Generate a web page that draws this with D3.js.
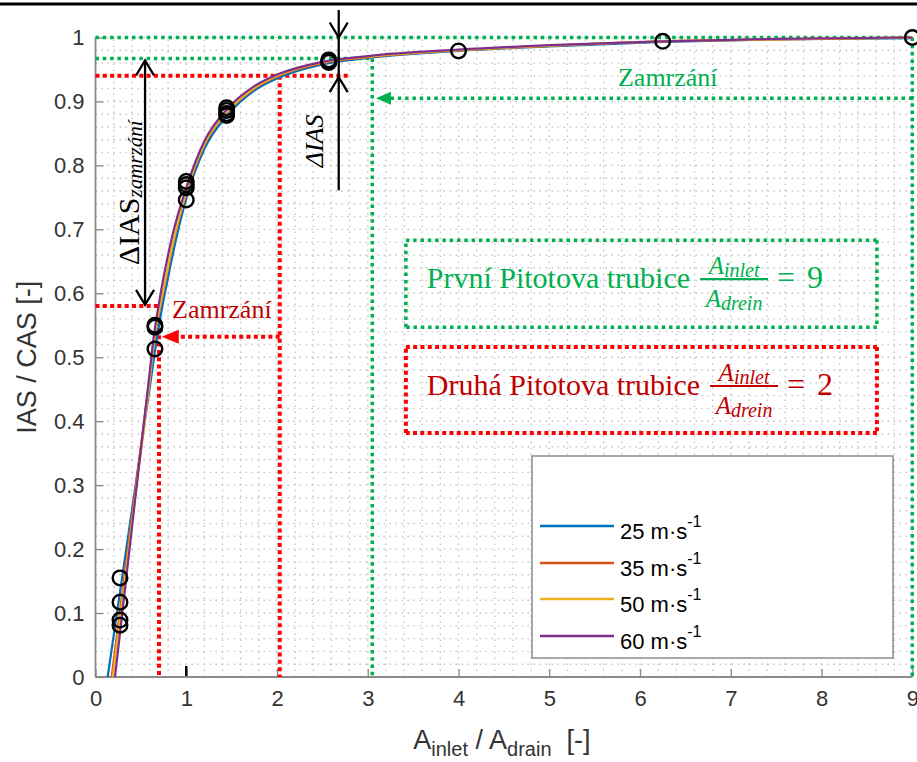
<!DOCTYPE html>
<html><head><meta charset="utf-8">
<script src="https://cdn.jsdelivr.net/npm/d3@7"></script>
<style>body{margin:0;background:#fff}svg{display:block}</style>
</head><body><svg id="c" width="917" height="762"></svg>
<script>
// ---------- data ----------
const xTicks = [0,1,2,3,4,5,6,7,8,9];
const yTicks = [0,0.1,0.2,0.3,0.4,0.5,0.6,0.7,0.8,0.9,1];
const seriesNames = ["25 m\u00B7s","35 m\u00B7s","50 m\u00B7s","60 m\u00B7s"];
const seriesColors = ["#0072BD","#D95319","#EDB120","#7E2F8E"];
const s25X = [0.134,0.30,0.45,0.60,0.674,0.75,0.80,0.85,1.0,1.2,1.45,1.75,2.0,2.5,3.0,4.0,5.0,6.25,7.5,9.0];
const s25Y = [0,0.162,0.308,0.455,0.527,0.59,0.625,0.66,0.748,0.826,0.878,0.917,0.936,0.958,0.968,0.979,0.986,0.993,0.997,0.999];
const s35X = [0.178,0.30,0.45,0.60,0.648,0.70,0.75,0.85,1.0,1.2,1.45,1.75,2.0,2.5,3.0,4.0,5.0,6.25,7.5,9.0];
const s35Y = [0,0.137,0.305,0.473,0.527,0.57,0.604,0.674,0.757,0.832,0.883,0.920,0.939,0.960,0.969,0.980,0.987,0.994,0.997,1.0];
const s50X = [0.19,0.30,0.45,0.60,0.645,0.70,0.75,0.85,1.0,1.2,1.45,1.75,2.0,2.5,3.0,4.0,5.0,6.25,7.5,9.0];
const s50Y = [0,0.125,0.296,0.467,0.527,0.572,0.607,0.677,0.759,0.834,0.884,0.921,0.940,0.961,0.970,0.980,0.987,0.994,0.997,1.0];
const s60X = [0.215,0.30,0.45,0.60,0.637,0.70,0.75,0.85,1.0,1.2,1.45,1.75,2.0,2.5,3.0,4.0,5.0,6.25,7.5,9.0];
const s60Y = [0,0.106,0.294,0.48,0.527,0.585,0.625,0.692,0.765,0.838,0.888,0.924,0.942,0.962,0.971,0.981,0.988,0.994,0.998,1.0];
const markerX = [0.27,0.27,0.27,0.27,0.655,0.655,0.655,1.0,1.0,1.0,1.0,1.445,1.445,1.445,1.445,2.57,2.57,2.57,4.0,6.25,9.0];
const markerY = [0.155,0.117,0.089,0.081,0.550,0.547,0.513,0.775,0.770,0.765,0.746,0.890,0.886,0.881,0.878,0.965,0.963,0.961,0.979,0.994,1.0];

// ---------- setup ----------
const W = 917, H = 762;
const svg = d3.select("#c");
const x = d3.scaleLinear().domain([0,9]).range([95.5, 912.3]);
const y = d3.scaleLinear().domain([0,1]).range([677, 37.5]);
const sans = "Liberation Sans, Arial, sans-serif";
const serif = "Liberation Serif, Times New Roman, serif";
const GREEN = "#00b050", RED = "#ff0000", DRED = "#c00000";
const AXC = "#333333";

// top black rule
svg.append("line").attr("x1",0).attr("x2",W).attr("y1",4).attr("y2",4).attr("stroke","#000").attr("stroke-width",3);

// grid (dotted)
const grid = svg.append("g").attr("stroke","#c4c4c4").attr("stroke-width",1.4).attr("stroke-dasharray","1.5,4.5");
d3.range(1,46).map(i=>i*0.2).forEach(v=>{
  grid.append("line").attr("x1",x(v)).attr("x2",x(v)).attr("y1",y(0)).attr("y2",y(1));
});
d3.range(1,51).map(i=>i*0.02).forEach(v=>{
  grid.append("line").attr("x1",x(0)).attr("x2",x(9)).attr("y1",y(v)).attr("y2",y(v));
});

// axes
const xAxis = svg.append("g").attr("transform",`translate(0,${y(0)})`)
  .call(d3.axisBottom(x).tickValues(xTicks).tickSize(-8).tickSizeOuter(0).tickPadding(13).tickFormat(d3.format("d")));
const yAxis = svg.append("g").attr("transform",`translate(${x(0)},0)`)
  .call(d3.axisLeft(y).tickValues(yTicks).tickSize(-8).tickSizeOuter(0).tickPadding(11)
    .tickFormat(d => d===0?"0":(d===1?"1":d3.format(".1f")(d))));
[xAxis,yAxis].forEach(a=>{
  a.select(".domain").remove();
  a.selectAll(".tick line").attr("stroke","#8a8a8a").attr("stroke-width",1.3);
  a.selectAll(".tick text").attr("font-family",sans).attr("font-size",22).attr("fill",AXC);
});
svg.append("line").attr("x1",x(0)).attr("x2",x(9)).attr("y1",y(0)).attr("y2",y(0)).attr("stroke","#8a8a8a").attr("stroke-width",1.8);
svg.append("line").attr("x1",x(0)).attr("x2",x(0)).attr("y1",y(0)).attr("y2",y(1)).attr("stroke","#8a8a8a").attr("stroke-width",1.8);
// dark tick at x = 1
svg.append("line").attr("x1",x(1)).attr("x2",x(1)).attr("y1",y(0)-1).attr("y2",y(0)-11).attr("stroke","#000").attr("stroke-width",2.5);

// axis titles
svg.append("text").attr("transform",`translate(36,${(y(0)+y(1))/2}) rotate(-90)`)
  .attr("text-anchor","middle").attr("font-family",sans).attr("font-size",27).attr("fill",AXC)
  .text("IAS / CAS [-]");
const xt = svg.append("text").attr("x",(x(0)+x(9))/2-2).attr("y",749).attr("text-anchor","middle")
  .attr("font-family",sans).attr("font-size",27).attr("fill",AXC);
xt.append("tspan").text("A");
xt.append("tspan").attr("font-size",20).attr("dy",7).text("inlet");
xt.append("tspan").attr("dy",-7).text(" / A");
xt.append("tspan").attr("font-size",20).attr("dy",7).text("drain");
xt.append("tspan").attr("dy",-7).text("\u00A0\u00A0[-]");

// dotted guide lines
function dotted(x1,y1,x2,y2,color){
  const isRed = color===RED;
  svg.append("line").attr("x1",x(x1)).attr("y1",y(y1)).attr("x2",x(x2)).attr("y2",y(y2))
    .attr("stroke",color).attr("stroke-width",isRed?4:3.5)
    .attr("stroke-dasharray",isRed?"4,3.3":"3.5,3.8");
}
function headLeft(xt_,yv,color,len,hh){
  const px=x(xt_), py=y(yv);
  svg.append("path").attr("d",`M${px},${py}L${px+len},${py-hh}L${px+len},${py+hh}Z`).attr("fill",color);
}
// green
dotted(0,1,9,1,GREEN);
dotted(0,0.967,3.05,0.967,GREEN);
dotted(3.05,0.967,3.05,0,GREEN);
dotted(9,1,9,0,GREEN);
dotted(9,0.905,3.2,0.905,GREEN);
headLeft(3.09,0.905,GREEN,15,6.5);
// red
dotted(0,0.94,2.78,0.94,RED);
dotted(2.03,0.94,2.03,0,RED);
dotted(0,0.58,0.70,0.58,RED);
dotted(0.70,0.58,0.70,0,RED);
dotted(2.03,0.532,0.9,0.532,RED);
headLeft(0.73,0.532,RED,17,7);

// boxes
function dottedRect(x1,y1,x2,y2,color){
  dotted(x1,y1,x2,y1,color); dotted(x2,y1,x2,y2,color);
  dotted(x2,y2,x1,y2,color); dotted(x1,y2,x1,y1,color);
}
dottedRect(3.42,0.683,8.61,0.547,GREEN);
dottedRect(3.42,0.516,8.61,0.3815,RED);

// curves
const allSeries = [[s25X,s25Y],[s35X,s35Y],[s50X,s50Y],[s60X,s60Y]];
svg.append("clipPath").attr("id","clip").append("rect")
  .attr("x",x(0)).attr("y",y(1)-2).attr("width",x(9)-x(0)+2).attr("height",y(0)-y(1)+2);
const line = d3.line().x(d=>x(d[0])).y(d=>y(d[1])).curve(d3.curveMonotoneX);
const cg = svg.append("g").attr("clip-path","url(#clip)");
allSeries.forEach((s,i)=>{
  const pts = s[0].map((v,j)=>[v,s[1][j]]);
  cg.append("path").attr("d",line(pts)).attr("fill","none").attr("stroke",seriesColors[i]).attr("stroke-width",2.2);
});
// markers
svg.append("g").selectAll("circle").data(markerX.map((v,i)=>[v,markerY[i]])).join("circle")
  .attr("cx",d=>x(d[0])).attr("cy",d=>y(d[1])).attr("r",7.3)
  .attr("fill","none").attr("stroke","#000").attr("stroke-width",2.4);

// black arrows
function openHead(xv,yv,dir){ // dir=-1 tip pointing up, +1 pointing down
  const px=x(xv), py=y(yv);
  svg.append("path").attr("d",`M${px-9},${py-dir*15}L${px},${py}L${px+9},${py-dir*15}`)
    .attr("fill","none").attr("stroke","#000").attr("stroke-width",2.3);
}
svg.append("line").attr("x1",x(0.546)).attr("x2",x(0.546)).attr("y1",y(0.964)).attr("y2",y(0.582)).attr("stroke","#000").attr("stroke-width",2.3);
openHead(0.546,0.964,-1); openHead(0.546,0.582,1);
svg.append("line").attr("x1",x(2.68)).attr("x2",x(2.68)).attr("y1",y(1.043)).attr("y2",y(0.761)).attr("stroke","#000").attr("stroke-width",2.3);
openHead(2.68,1.0,1); openHead(2.68,0.938,-1);

// annotation texts
svg.append("text").attr("x",x(0.843)).attr("y",y(0.561)).attr("font-family",serif).attr("font-size",26).attr("fill",DRED).text("Zamrz\u00E1n\u00ED");
svg.append("text").attr("x",x(5.757)).attr("y",y(0.9245)).attr("font-family",serif).attr("font-size",26).attr("fill",GREEN).text("Zamrz\u00E1n\u00ED");
const d1 = svg.append("text").attr("transform",`translate(${x(0.479)},${y(0.644)}) rotate(-90)`)
  .attr("font-family",serif).attr("font-size",30).attr("fill","#000");
d1.append("tspan").text("\u0394IAS");
d1.append("tspan").attr("font-size",21).attr("font-style","italic").attr("dy",3).text("zamrz\u00E1n\u00ED");
svg.append("text").attr("transform",`translate(${x(2.507)},${y(0.797)}) rotate(-90)`)
  .attr("font-family",serif).attr("font-size",26).attr("font-style","italic").attr("fill","#000").text("\u0394IAS");

function eqLabel(xv,yv,main,rhs,color){
  const x0=x(xv), y0=y(yv);
  const t = svg.append("text").attr("x",x0).attr("y",y0).attr("font-family",serif).attr("font-size",30).attr("fill",color).text(main);
  const w = t.node().getComputedTextLength();
  const fx = x0+w+10, fw = 68;
  const num = svg.append("text").attr("x",fx+fw/2).attr("y",y0-14).attr("text-anchor","middle")
    .attr("font-family",serif).attr("font-style","italic").attr("fill",color).attr("font-size",25);
  num.append("tspan").text("A"); num.append("tspan").attr("font-size",20).attr("dy",3).text("inlet");
  svg.append("line").attr("x1",fx).attr("x2",fx+fw).attr("y1",y0-9).attr("y2",y0-9).attr("stroke",color).attr("stroke-width",2.2);
  const den = svg.append("text").attr("x",fx+fw/2).attr("y",y0+19).attr("text-anchor","middle")
    .attr("font-family",serif).attr("font-style","italic").attr("fill",color).attr("font-size",25);
  den.append("tspan").text("A"); den.append("tspan").attr("font-size",20).attr("dy",3).text("drein");
  const r = svg.append("text").attr("x",fx+fw+9).attr("y",y0).attr("font-family",serif).attr("font-size",32).attr("fill",color);
  r.append("tspan").text("=");
  r.append("tspan").attr("dx",12).text(rhs);
}
eqLabel(3.65,0.608,"Prvn\u00ED Pitotova trubice","9",GREEN);
eqLabel(3.65,0.441,"Druh\u00E1 Pitotova trubice","2",DRED);

// legend
const lg = svg.append("g");
lg.append("rect").attr("x",532).attr("y",456).attr("width",361).attr("height",202)
  .attr("fill","#fff").attr("stroke","#8c8c8c").attr("stroke-width",1.5);
const legY = [526,563,599,636];
seriesNames.forEach((n,i)=>{
  lg.append("line").attr("x1",540).attr("x2",614).attr("y1",legY[i]).attr("y2",legY[i])
    .attr("stroke",seriesColors[i]).attr("stroke-width",2.5);
  const t = lg.append("text").attr("x",620).attr("y",legY[i]+13).attr("font-family",sans).attr("font-size",22).attr("fill","#000");
  t.append("tspan").text(n);
  t.append("tspan").attr("font-size",16).attr("dy",-12).text("-1");
});
</script></body></html>
